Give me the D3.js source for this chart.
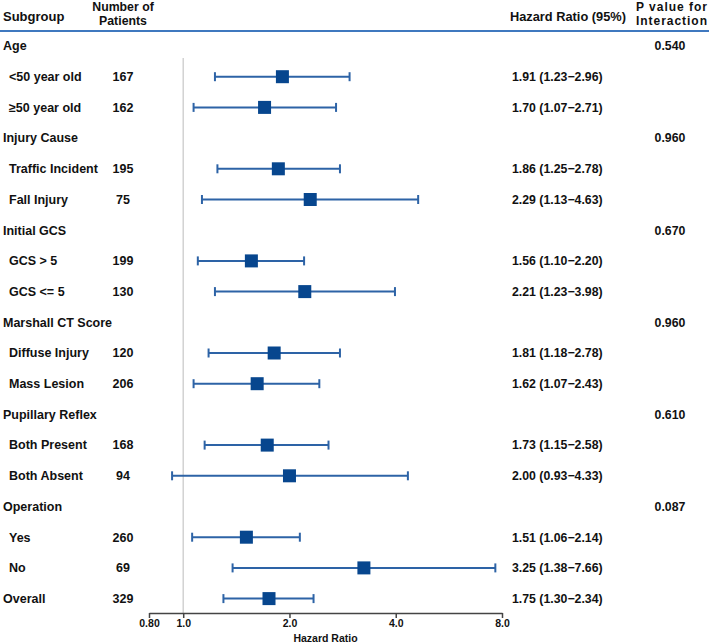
<!DOCTYPE html>
<html>
<head>
<meta charset="utf-8">
<script src="https://cdn.jsdelivr.net/npm/d3@7"></script>
<style>
  body { margin: 0; background: #fff; }
  text { font-family: "Liberation Sans", Arial, sans-serif; font-weight: bold; fill: #111; }
</style>
</head>
<body>
<div id="chartContainer"></div>
<script>
// Rows top to bottom; isHeader marks the subgroup titles
const rowLabels = ["Age", "<50 year old", "\u226550 year old",
    "Injury Cause", "Traffic Incident", "Fall Injury",
    "Initial GCS", "GCS > 5", "GCS <= 5",
    "Marshall CT Score", "Diffuse Injury", "Mass Lesion",
    "Pupillary Reflex", "Both Present", "Both Absent",
    "Operation", "Yes", "No",
    "Overall"];
const isHeader = [1, 0, 0, 1, 0, 0, 1, 0, 0, 1, 0, 0, 1, 0, 0, 1, 0, 0, 0];
const patients = [null, 167, 162, null, 195, 75, null, 199, 130, null, 120, 206, null, 168, 94, null, 260, 69, 329];
const hazard = [null, 1.91, 1.70, null, 1.86, 2.29, null, 1.56, 2.21, null, 1.81, 1.62, null, 1.73, 2.00, null, 1.51, 3.25, 1.75];
const lower = [null, 1.23, 1.07, null, 1.25, 1.13, null, 1.10, 1.23, null, 1.18, 1.07, null, 1.15, 0.93, null, 1.06, 1.38, 1.30];
const upper = [null, 2.96, 2.71, null, 2.78, 4.63, null, 2.20, 3.98, null, 2.78, 2.43, null, 2.58, 4.33, null, 2.14, 7.66, 2.34];
const pInteraction = ["0.540", null, null, "0.960", null, null, "0.670", null, null, "0.960", null, null, "0.610", null, null, "0.087", null, null, null];
const tickValues = [0.8, 1, 2, 4, 8];
const tickLabels = ["0.80", "1.0", "2.0", "4.0", "8.0"];

const width = 709, height = 644;
const svg = d3.select("#chartContainer").append("svg")
    .attr("width", width)
    .attr("height", height);

const x = d3.scaleLog().domain([0.8, 8]).range([149, 502]);
const y = d3.scaleLinear().domain([0, rowLabels.length - 1]).range([46, 598.6]);
const axisY = 613;

const lineColor = "#2d63a6";
const boxColor = "#07468e";

// Header
svg.append("text").attr("x", 3).attr("y", 21).style("font-size", "13px").text("Subgroup");
svg.append("text").attr("x", 123).attr("y", 11).attr("text-anchor", "middle").style("font-size", "12.3px").text("Number of");
svg.append("text").attr("x", 123).attr("y", 24.7).attr("text-anchor", "middle").style("font-size", "12.3px").text("Patients");
svg.append("text").attr("x", 510).attr("y", 21).style("font-size", "12.8px").text("Hazard Ratio (95%)");
svg.append("text").attr("x", 636).attr("y", 11).style("font-size", "12px")
    .attr("textLength", 71).attr("lengthAdjust", "spacing").text("P value for");
svg.append("text").attr("x", 636).attr("y", 24.8).style("font-size", "12px")
    .attr("textLength", 71).attr("lengthAdjust", "spacing").text("Interaction");
svg.append("line")
    .attr("x1", 0).attr("x2", width)
    .attr("y1", 31).attr("y2", 31)
    .attr("stroke", "#3f78bf").attr("stroke-width", 2);

// Reference line at HR = 1
svg.append("line")
    .attr("x1", x(1)).attr("x2", x(1))
    .attr("y1", 58).attr("y2", axisY)
    .attr("stroke", "#d2d2d2").attr("stroke-width", 1.5);

const rows = rowLabels.map((label, i) => ({
    label, i, header: isHeader[i], n: patients[i],
    hr: hazard[i], lo: lower[i], hi: upper[i], p: pInteraction[i]
}));

const g = svg.append("g");

g.selectAll(".label").data(rows).enter().append("text")
    .attr("class", "label")
    .attr("x", d => (d.header || d.label === "Overall") ? 3 : 9)
    .attr("y", d => y(d.i))
    .attr("dy", "0.35em")
    .style("font-size", "12.5px")
    .text(d => d.label);

g.selectAll(".count").data(rows.filter(d => d.n !== null)).enter().append("text")
    .attr("class", "count")
    .attr("x", 123)
    .attr("y", d => y(d.i))
    .attr("dy", "0.35em")
    .attr("text-anchor", "middle")
    .style("font-size", "12.5px")
    .text(d => d.n);

const est = rows.filter(d => d.hr !== null);

g.selectAll(".ci").data(est).enter().append("line")
    .attr("x1", d => x(d.lo)).attr("x2", d => x(d.hi))
    .attr("y1", d => y(d.i)).attr("y2", d => y(d.i))
    .attr("stroke", lineColor).attr("stroke-width", 2);

["lo", "hi"].forEach(k => {
    g.selectAll(".cap-" + k).data(est).enter().append("line")
        .attr("x1", d => x(d[k])).attr("x2", d => x(d[k]))
        .attr("y1", d => y(d.i) - 4.5).attr("y2", d => y(d.i) + 4.5)
        .attr("stroke", lineColor).attr("stroke-width", 2);
});

const box = 13;
g.selectAll(".box").data(est).enter().append("rect")
    .attr("x", d => x(d.hr) - box / 2)
    .attr("y", d => y(d.i) - box / 2)
    .attr("width", box).attr("height", box)
    .attr("fill", boxColor);

g.selectAll(".hrtext").data(est).enter().append("text")
    .attr("x", 512)
    .attr("y", d => y(d.i))
    .attr("dy", "0.35em")
    .style("font-size", "12.3px")
    .text(d => `${d.hr.toFixed(2)} (${d.lo.toFixed(2)}\u2212${d.hi.toFixed(2)})`);

g.selectAll(".ptext").data(rows.filter(d => d.p !== null)).enter().append("text")
    .attr("x", 670)
    .attr("y", d => y(d.i))
    .attr("dy", "0.35em")
    .attr("text-anchor", "middle")
    .style("font-size", "12.3px")
    .text(d => d.p);

// Axis
const axis = svg.append("g")
    .attr("transform", `translate(0, ${axisY})`)
    .call(d3.axisBottom(x).tickValues(tickValues)
        .tickFormat((d, i) => tickLabels[i])
        .tickSize(5).tickSizeOuter(0));
axis.select(".domain").attr("stroke", "#444").attr("stroke-width", 1.5);
axis.selectAll(".tick line").attr("stroke", "#444").attr("stroke-width", 1.5);
axis.selectAll(".tick text")
    .attr("y", 7)
    .style("font-size", "10.5px")
    .style("font-family", "'Liberation Sans', Arial, sans-serif")
    .style("font-weight", "bold")
    .attr("fill", "#111");

svg.append("text")
    .attr("x", (x(0.8) + x(8)) / 2)
    .attr("y", 642)
    .attr("text-anchor", "middle")
    .style("font-size", "10.5px")
    .text("Hazard Ratio");
</script>
</body>
</html>
